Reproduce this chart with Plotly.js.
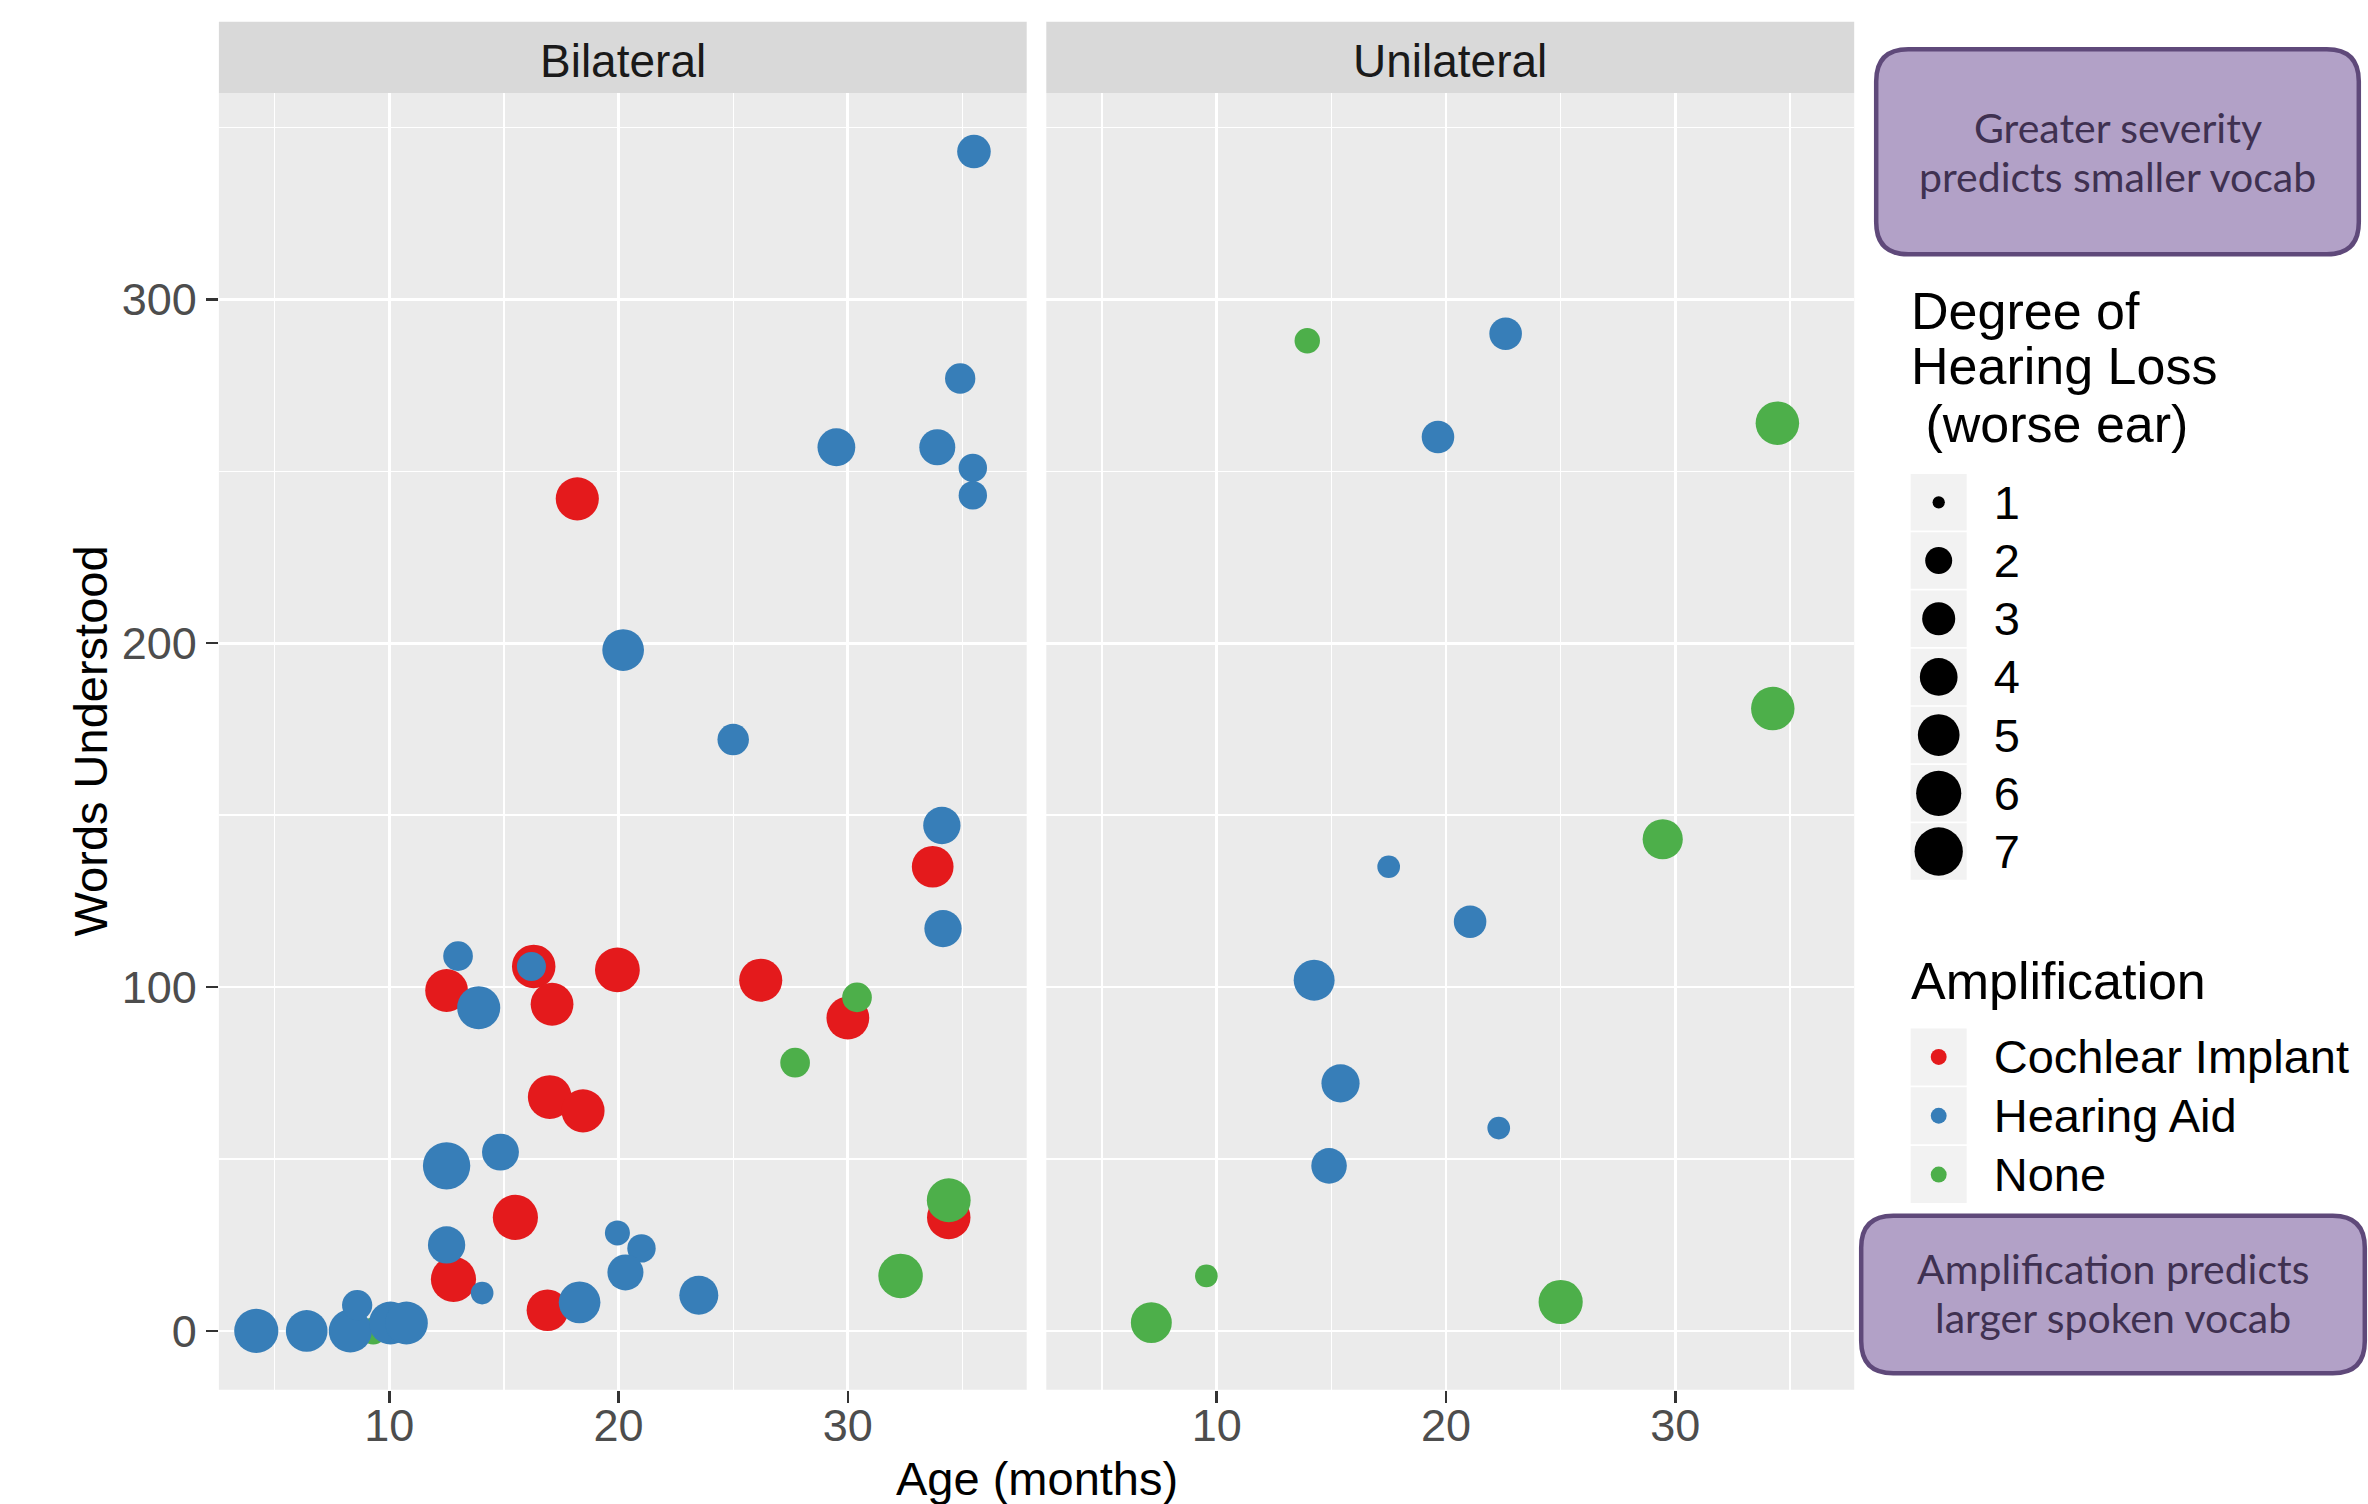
<!DOCTYPE html>
<html>
<head>
<meta charset="utf-8">
<script src="https://cdn.plot.ly/plotly-3.0.1.min.js"></script>
<style>
  html, body { margin: 0; padding: 0; background: #ffffff; }
  #chart { width: 2368px; height: 1504px; }
</style>
</head>
<body>
<div id="chart"></div>
<script>
// ================= DATA =================
const panelNames = ['Bilateral', 'Unilateral'];
const amplificationLevels = ['Cochlear Implant', 'Hearing Aid', 'None'];
const degreeBreaks = ['1', '2', '3', '4', '5', '6', '7'];
const xTickVals = [10, 20, 30];
const yTickVals = [0, 100, 200, 300];

// Bilateral – Cochlear Implant
const bilCI_age    = [18.2, 33.7, 16.3, 19.95, 26.2, 12.5, 17.1, 30.0, 17.0, 18.45, 34.4, 15.5, 12.8, 16.9];
const bilCI_words  = [242, 135, 106, 105, 102, 99, 95, 91, 68, 64, 33, 33, 15, 6];
const bilCI_degree = [5.4, 5.0, 5.5, 5.9, 5.4, 5.3, 5.3, 5.3, 5.6, 5.4, 5.5, 6.0, 6.0, 5.0];

// Bilateral – None
const bilNone_age    = [30.4, 27.7, 34.4, 32.3, 9.3];
const bilNone_words  = [97, 78, 38, 16, 0];
const bilNone_degree = [2.4, 2.4, 5.6, 5.8, 2.0];

// Bilateral – Hearing Aid
const bilHA_age    = [35.5, 34.9, 29.5, 33.9, 35.45, 35.45, 20.2, 25.0, 34.1, 34.15, 13.0, 16.2, 13.9, 14.85, 12.5, 12.5, 19.95, 21.0, 20.3, 14.05, 23.5, 18.3, 4.2, 6.4, 8.3, 8.6, 10.05, 10.75];
const bilHA_words  = [343, 277, 257, 257, 251, 243, 198, 172, 147, 117, 109, 106, 94, 52, 48, 25, 28.5, 24, 17, 11, 10.4, 8.3, 0, 0, 0, 7.5, 2.3, 2.3];
const bilHA_degree = [3.1, 2.5, 4.0, 3.6, 2.2, 2.2, 5.0, 2.7, 3.9, 3.9, 2.4, 2.3, 5.4, 3.8, 6.7, 3.9, 1.75, 2.2, 3.6, 1.5, 4.3, 5.0, 5.7, 5.0, 5.4, 2.5, 5.3, 5.3];

// Unilateral – None
const uniNone_age    = [13.95, 34.45, 34.25, 29.45, 9.55, 7.15, 25.0];
const uniNone_words  = [288, 264, 181, 143, 16, 2.4, 8.4];
const uniNone_degree = [1.8, 5.5, 5.5, 4.6, 1.5, 4.8, 5.7];

// Unilateral – Hearing Aid
const uniHA_age    = [22.6, 19.65, 17.5, 21.05, 14.25, 15.4, 22.3, 14.9];
const uniHA_words  = [290, 260, 135, 119, 102, 72, 59, 48];
const uniHA_degree = [2.9, 2.9, 1.5, 2.9, 4.8, 4.1, 1.5, 3.5];

// ================= STYLE / MAPPING =================
const W = 2368, H = 1504;
const FONT = 'Liberation Sans, Arial, Helvetica, sans-serif';
const BOX_FONT = 'Lato, Carlito, Calibri, sans-serif';
const COLORS = { 'Cochlear Implant': '#E41A1C', 'Hearing Aid': '#377EB8', 'None': '#4DAF4A' };
const DEG_LIMITS = [1, 7];
const SIZE_RANGE = [1, 6];
const LEGEND_POINT_SIZE = 1.5;
function ggSizeToPx(s) { return 7.2 * s + 5.1; }
function degreeToPx(d) {
  const t = Math.max(0, (d - DEG_LIMITS[0]) / (DEG_LIMITS[1] - DEG_LIMITS[0]));
  return ggSizeToPx(SIZE_RANGE[0] + (SIZE_RANGE[1] - SIZE_RANGE[0]) * Math.sqrt(t));
}
const X = p => p / W;
const Y = p => 1 - p / H;

const PANEL_TOP = 93.1, PANEL_BOTTOM = 1389.7, STRIP_TOP = 21.8;
const LEFT_DOM = [218.9, 1026.7], RIGHT_DOM = [1046.3, 1854.2];
const KEY_X = [1910.7, 1966.7];

function pts(name, ages, words, degrees, xa, ya) {
  return {
    type: 'scatter', mode: 'markers', name: name, showlegend: false,
    x: ages, y: words, xaxis: xa, yaxis: ya,
    marker: { color: COLORS[name], size: degrees.map(degreeToPx), line: { width: 0 }, opacity: 1 },
    hoverinfo: 'skip'
  };
}

const traces = [
  pts('Cochlear Implant', bilCI_age, bilCI_words, bilCI_degree, 'x', 'y'),
  pts('None', bilNone_age, bilNone_words, bilNone_degree, 'x', 'y'),
  pts('Hearing Aid', bilHA_age, bilHA_words, bilHA_degree, 'x', 'y'),
  pts('None', uniNone_age, uniNone_words, uniNone_degree, 'x2', 'y2'),
  pts('Hearing Aid', uniHA_age, uniHA_words, uniHA_degree, 'x2', 'y2'),
  // size legend keys
  {
    type: 'scatter', mode: 'markers', showlegend: false, hoverinfo: 'skip',
    x: degreeBreaks.map(() => 0), y: degreeBreaks, xaxis: 'x4', yaxis: 'y4',
    marker: { color: '#000000', size: degreeBreaks.map(b => degreeToPx(Number(b))), line: { width: 0 }, opacity: 1 }
  },
  // colour legend keys
  {
    type: 'scatter', mode: 'markers', showlegend: false, hoverinfo: 'skip',
    x: amplificationLevels.map(() => 0), y: amplificationLevels, xaxis: 'x5', yaxis: 'y5',
    marker: { color: amplificationLevels.map(a => COLORS[a]), size: ggSizeToPx(LEGEND_POINT_SIZE), line: { width: 0 }, opacity: 1 }
  }
];

function panelX(dom) {
  return {
    domain: [X(dom[0]), X(dom[1])], range: [2.57, 37.8], fixedrange: true,
    tickmode: 'array', tickvals: xTickVals, ticks: 'outside', ticklen: 12, tickwidth: 2.5, tickcolor: '#333333',
    tickfont: { family: FONT, size: 45, color: '#4D4D4D' }, ticklabelstandoff: -16,
    showgrid: true, gridcolor: '#FFFFFF', gridwidth: 2.8, zeroline: false, showline: false,
    minor: { tickmode: 'array', tickvals: [5, 15, 25, 35], showgrid: true, gridcolor: '#FFFFFF', gridwidth: 1.4, ticks: '' }
  };
}
function panelY(anchor, showLabels) {
  return {
    domain: [Y(PANEL_BOTTOM), Y(PANEL_TOP)], range: [-17.1, 360.0], anchor: anchor, fixedrange: true,
    tickmode: 'array', tickvals: yTickVals, ticks: showLabels ? 'outside' : '', ticklen: 12, tickwidth: 2.5, tickcolor: '#333333',
    showticklabels: showLabels,
    tickfont: { family: FONT, size: 45, color: '#4D4D4D' },
    showgrid: true, gridcolor: '#FFFFFF', gridwidth: 2.8, zeroline: false, showline: false,
    minor: { tickmode: 'array', tickvals: [50, 150, 250, 350], showgrid: true, gridcolor: '#FFFFFF', gridwidth: 1.4, ticks: '' }
  };
}

function roundRect(x0, y0, x1, y1, r) {
  const p = (x, y) => X(x) + ',' + Y(y);
  return 'M' + p(x0 + r, y0) + ' L' + p(x1 - r, y0) + ' Q' + p(x1, y0) + ' ' + p(x1, y0 + r) +
    ' L' + p(x1, y1 - r) + ' Q' + p(x1, y1) + ' ' + p(x1 - r, y1) +
    ' L' + p(x0 + r, y1) + ' Q' + p(x0, y1) + ' ' + p(x0, y1 - r) +
    ' L' + p(x0, y0 + r) + ' Q' + p(x0, y0) + ' ' + p(x0 + r, y0) + ' Z';
}

const shapes = [];
// panel backgrounds and strips
[['x', 'y'], ['x2', 'y2']].forEach(([xa, ya]) => {
  shapes.push({ type: 'rect', xref: xa + ' domain', yref: ya + ' domain', x0: 0, x1: 1, y0: 0, y1: 1,
    fillcolor: '#EBEBEB', line: { width: 0 }, layer: 'below' });
  shapes.push({ type: 'rect', xref: xa + ' domain', yref: 'paper', x0: 0, x1: 1, y0: Y(PANEL_TOP), y1: Y(STRIP_TOP),
    fillcolor: '#D9D9D9', line: { width: 0 }, layer: 'below' });
});
// legend key backgrounds
degreeBreaks.forEach((b, i) => shapes.push({ type: 'rect', xref: 'x4 domain', yref: 'y4', x0: 0, x1: 1, y0: i - 0.485, y1: i + 0.485,
  fillcolor: '#F2F2F2', line: { width: 0 }, layer: 'below' }));
amplificationLevels.forEach((a, i) => shapes.push({ type: 'rect', xref: 'x5 domain', yref: 'y5', x0: 0, x1: 1, y0: i - 0.485, y1: i + 0.485,
  fillcolor: '#F2F2F2', line: { width: 0 }, layer: 'below' }));
// callout boxes
shapes.push({ type: 'path', xref: 'paper', yref: 'paper', path: roundRect(1876.2, 49.2, 2358.8, 254.3, 32),
  fillcolor: '#B2A1C7', line: { color: '#5F497A', width: 4.5 } });
shapes.push({ type: 'path', xref: 'paper', yref: 'paper', path: roundRect(1861.2, 1215.7, 2364.8, 1373.2, 32),
  fillcolor: '#B2A1C7', line: { color: '#5F497A', width: 4.5 } });

function txt(text, xpx, ypx, size, color, family, xanchor, extra) {
  return Object.assign({ text: text, xref: 'paper', yref: 'paper', x: X(xpx), y: Y(ypx), showarrow: false,
    xanchor: xanchor || 'center', yanchor: 'middle', font: { family: family || FONT, size: size, color: color } }, extra || {});
}

const annotations = [
  { text: panelNames[0], xref: 'x domain', x: 0.5, yref: 'paper', y: Y(61), showarrow: false, xanchor: 'center', yanchor: 'middle',
    font: { family: FONT, size: 46, color: '#1A1A1A' } },
  { text: panelNames[1], xref: 'x2 domain', x: 0.5, yref: 'paper', y: Y(61), showarrow: false, xanchor: 'center', yanchor: 'middle',
    font: { family: FONT, size: 46, color: '#1A1A1A' } },
  txt('Age (months)', (LEFT_DOM[0] + RIGHT_DOM[1]) / 2, 1478.5, 47, '#000000'),
  txt('Words Understood', 90, (PANEL_TOP + PANEL_BOTTOM) / 2, 47, '#000000', FONT, 'center', { textangle: -90 }),
  txt('Degree of', 1909, 310.8, 52, '#000000', FONT, 'left'),
  txt('Hearing Loss', 1909, 365.8, 52, '#000000', FONT, 'left'),
  txt(' (worse ear)', 1909, 423.8, 52, '#000000', FONT, 'left'),
  txt('Amplification', 1909, 980.8, 52, '#000000', FONT, 'left'),
  txt('Greater severity', 2117.5, 127.6, 41, '#3F3151', BOX_FONT),
  txt('predicts smaller vocab', 2117.5, 176.4, 41, '#3F3151', BOX_FONT),
  txt('Amplification predicts', 2112.8, 1268, 41, '#3F3151', BOX_FONT),
  txt('larger spoken vocab', 2112.8, 1317.7, 41, '#3F3151', BOX_FONT)
];

const hiddenX = dom => ({ domain: [X(dom[0]), X(dom[1])], range: [-1, 1], visible: false, fixedrange: true });
function keyY(anchor, cats, top, bottom) {
  return {
    domain: [Y(bottom), Y(top)], anchor: anchor, type: 'category', categoryorder: 'array', categoryarray: cats,
    range: [cats.length - 0.5, -0.5], side: 'right', ticks: '', showgrid: false, zeroline: false, showline: false,
    tickfont: { family: FONT, size: 47, color: '#000000' }, ticklabelstandoff: 26, fixedrange: true
  };
}

const layout = {
  width: W, height: H,
  margin: { l: 0, r: 0, t: 0, b: 0, pad: 0 },
  paper_bgcolor: '#FFFFFF', plot_bgcolor: 'rgba(0,0,0,0)',
  showlegend: false, hovermode: false,
  xaxis: Object.assign(panelX(LEFT_DOM), { anchor: 'y' }),
  yaxis: panelY('x', true),
  xaxis2: Object.assign(panelX(RIGHT_DOM), { anchor: 'y2' }),
  yaxis2: panelY('x2', false),
  xaxis4: Object.assign(hiddenX(KEY_X), { anchor: 'y4' }),
  yaxis4: keyY('x4', degreeBreaks, 473.2, 880.6),
  xaxis5: Object.assign(hiddenX(KEY_X), { anchor: 'y5' }),
  yaxis5: keyY('x5', amplificationLevels, 1027.6, 1203.9),
  shapes: shapes,
  annotations: annotations
};

Plotly.newPlot('chart', traces, layout, { displayModeBar: false, staticPlot: true });
</script>
</body>
</html>
